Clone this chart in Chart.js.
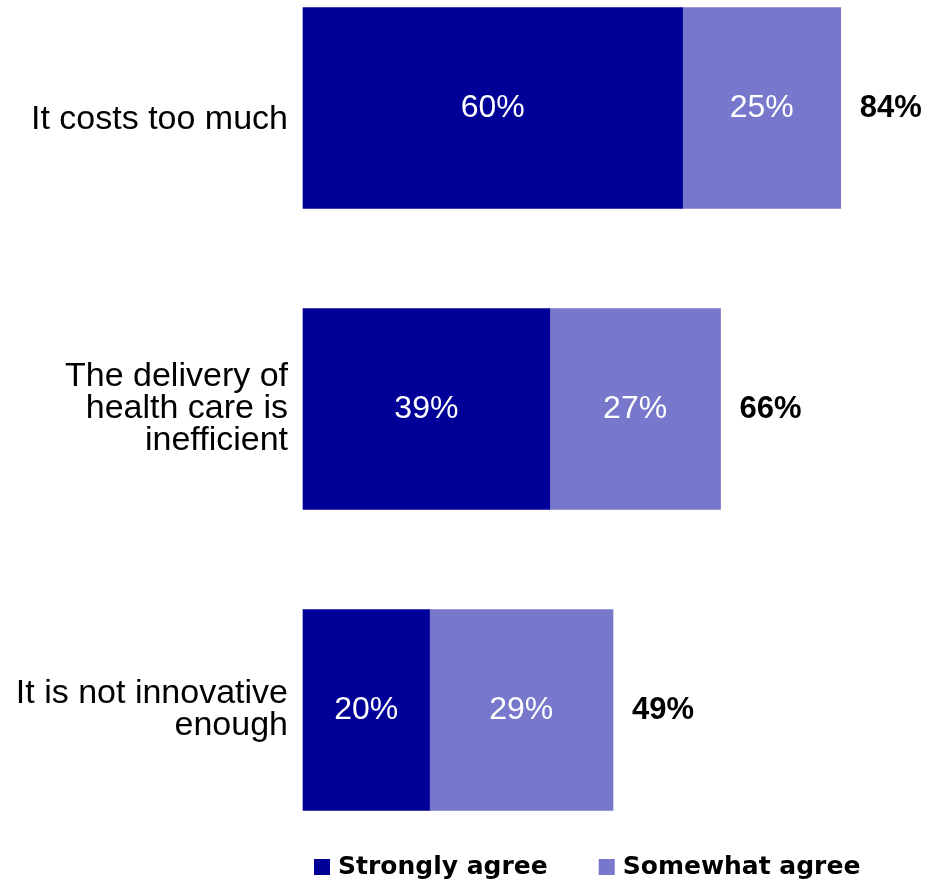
<!DOCTYPE html>
<html>
<head>
<meta charset="utf-8">
<script src="https://cdn.jsdelivr.net/npm/chart.js@4"></script>
<style>
    html, body { margin: 0; padding: 0; background: #fff; }
    #box { width: 929px; height: 881px; position: relative; }
</style>
</head>
<body>
<div id="box"><canvas id="grafico"></canvas></div>
<script>
const categorias = [
    'It costs too much',
    ['The delivery of', 'health care is', 'inefficient'],
    ['It is not innovative', 'enough']
];
const fortemente = [60, 39, 20];
const parcialmente = [25, 27, 29];
const totais = [84, 66, 49];
const nomesSeries = ['Strongly agree', 'Somewhat agree'];

const fonteTexto = "'Liberation Sans', Arial, sans-serif";

// rótulos dentro das barras e totais à direita
const rotulosPlugin = {
    id: 'rotulos',
    afterDatasetsDraw(chart) {
        const ctx = chart.ctx;
        ctx.save();
        ctx.textBaseline = 'middle';
        chart.data.datasets.forEach(function (ds, i) {
            const meta = chart.getDatasetMeta(i);
            meta.data.forEach(function (bar, j) {
                ctx.fillStyle = '#ffffff';
                ctx.font = '32px ' + fonteTexto;
                ctx.textAlign = 'center';
                ctx.fillText(ds.data[j] + '%', (bar.x + bar.base) / 2, bar.y);
            });
        });
        const ultimo = chart.getDatasetMeta(chart.data.datasets.length - 1);
        ultimo.data.forEach(function (bar, j) {
            ctx.fillStyle = '#000000';
            ctx.font = 'bold 31px ' + fonteTexto;
            ctx.textAlign = 'left';
            ctx.fillText(totais[j] + '%', bar.x + 19, bar.y);
        });
        ctx.restore();
    }
};

// legenda desenhada à mão para acertar a posição
const legendaPlugin = {
    id: 'legendaManual',
    afterDraw(chart) {
        const ctx = chart.ctx;
        ctx.save();
        ctx.font = "bold 25px 'DejaVu Sans', sans-serif";
        ctx.textBaseline = 'middle';
        ctx.textAlign = 'left';
        let x = 314;
        const y = 867;
        chart.data.datasets.forEach(function (ds) {
            ctx.fillStyle = ds.backgroundColor;
            ctx.fillRect(x, y - 8, 16, 16);
            ctx.fillStyle = '#000000';
            ctx.fillText(ds.label, x + 24, y);
            x += 24 + ctx.measureText(ds.label).width + 51;
        });
        ctx.restore();
    }
};

new Chart(document.getElementById('grafico'), {
    type: 'bar',
    data: {
        labels: categorias,
        datasets: [
            {
                label: nomesSeries[0],
                data: fortemente,
                backgroundColor: '#000099',
                barThickness: 201,
                clip: false
            },
            {
                label: nomesSeries[1],
                data: parcialmente,
                backgroundColor: '#7777CC',
                barThickness: 201,
                clip: false
            }
        ]
    },
    options: {
        indexAxis: 'y',
        responsive: true,
        maintainAspectRatio: false,
        animation: false,
        layout: {
            padding: { top: 108, bottom: 171, left: 0, right: 25 }
        },
        plugins: {
            legend: { display: false },
            tooltip: { enabled: false }
        },
        scales: {
            x: {
                stacked: true,
                display: false,
                min: 0,
                max: 95
            },
            y: {
                stacked: true,
                offset: false,
                grid: { display: false, drawTicks: false },
                border: { display: false },
                ticks: {
                    color: '#000000',
                    padding: 15,
                    // o primeiro rótulo fica um pouco abaixo do centro da barra
                    callback: function (valor, i) {
                        const texto = this.getLabelForValue(valor);
                        return i === 0 ? ['', texto] : texto;
                    },
                    font: function (c) {
                        return {
                            family: fonteTexto,
                            size: 34,
                            lineHeight: c.index === 0 ? '24px' : '32px'
                        };
                    }
                },
                afterFit: function (scale) {
                    scale.width = 303;
                }
            }
        }
    },
    plugins: [rotulosPlugin, legendaPlugin]
});
</script>
</body>
</html>
